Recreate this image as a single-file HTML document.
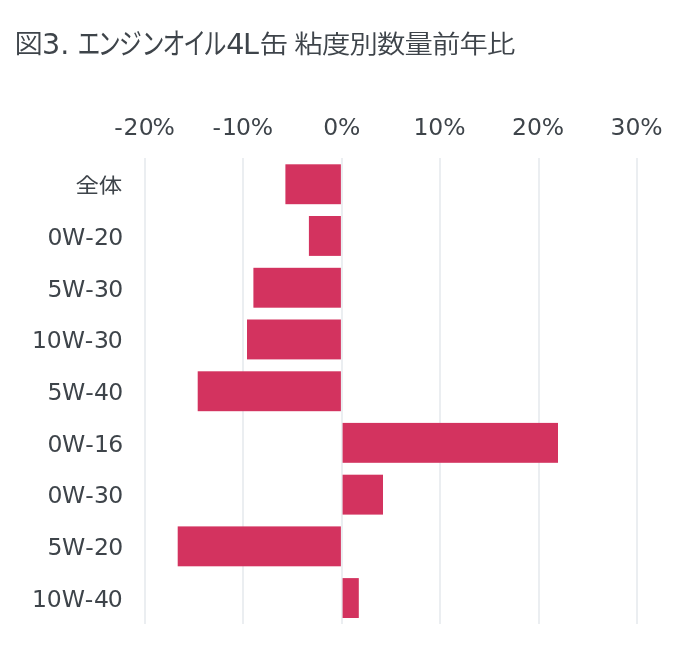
<!DOCTYPE html>
<html lang="ja">
<head>
<meta charset="utf-8">
<title>図3. エンジンオイル4L缶 粘度別数量前年比</title>
<style>
html,body{margin:0;padding:0;background:#fff;}
body{width:700px;height:662px;overflow:hidden;}
svg{display:block;will-change:transform;}
text{font-family:"DejaVu Sans","Liberation Sans","Noto Sans CJK JP",sans-serif;fill:#3e444a;}
.title{font-size:27.3px;}
.lab{font-size:23.5px;}
.cjk{font-weight:350;}
.w4{font-weight:400;}
.lt{font-size:28.6px;}
.kj{font-size:28.4px;letter-spacing:-0.85px;word-spacing:-1.15px;}
.grid{fill:#ebeef1;}
.bar{fill:#d3335f;}
</style>
</head>
<body>
<svg width="700" height="662" viewBox="0 0 700 662">
<rect width="700" height="662" fill="#ffffff"/>
<g class="title">
<text class="cjk kj" transform="translate(14.5,53.4) scale(1,0.92)" x="0" y="0">図</text><text class="lt" x="42.0" y="54.3">3. </text><text class="cjk w4" transform="translate(77.6,54.3) scale(0.84,1.08)" x="0 24.1 49.4 76.1 101 125.9 149.9" y="0">エンジンオイル</text><text class="lt" x="226.2" y="54.3" dx="0 -1.4">4L</text><text class="cjk kj" transform="translate(259.8,53.3) scale(1,0.895)" x="0" y="0">缶 粘度別数量前年比</text>
</g>
<g class="grid">
<rect x="144" y="158" width="2" height="466"/>
<rect x="242" y="158" width="2" height="466"/>
<rect x="341" y="158" width="2" height="466"/>
<rect x="439" y="158" width="2" height="466"/>
<rect x="538" y="158" width="2" height="466"/>
<rect x="636" y="158" width="2" height="466"/>
</g>
<g class="lab" text-anchor="middle">
<text x="144.5" y="134.5" dx="0 1 0.3 -1.3">-20%</text>
<text x="242.8" y="134.5" dx="0 1 -0.8 -0.2">-10%</text>
<text x="341.8" y="134.5">0%</text>
<text x="439.5" y="134.5">10%</text>
<text x="538.1" y="134.5">20%</text>
<text x="636.6" y="134.5">30%</text>
</g>
<g class="bar">
<rect x="285.4" y="164.3" width="55.5" height="39.9"/>
<rect x="308.9" y="216.0" width="32.0" height="39.9"/>
<rect x="253.4" y="267.8" width="87.5" height="39.9"/>
<rect x="247.0" y="319.5" width="93.9" height="39.9"/>
<rect x="197.7" y="371.3" width="143.2" height="39.9"/>
<rect x="342.6" y="422.9" width="215.4" height="39.9"/>
<rect x="342.6" y="474.7" width="40.4" height="39.9"/>
<rect x="177.7" y="526.4" width="163.2" height="39.9"/>
<rect x="342.6" y="578.1" width="16.2" height="39.9"/>
</g>
<g class="lab" text-anchor="end">
<text class="cjk w4" transform="translate(122.0,192.5) scale(1,0.885)" x="0" y="0" dx="0.2 -0.2">全体</text>
<text x="123.1" y="244.8" dx="0 -0.3 0.9 0.3 -0.9">0W-20</text>
<text x="123.1" y="296.5" dx="0 -0.3 0.9 0.3 -0.9">5W-30</text>
<text x="122.6" y="348.2" dx="0 -0.3 0 0.8 0.6 -1.2">10W-30</text>
<text x="123.1" y="399.9" dx="0 -0.3 0.9 0.3 -0.9">5W-40</text>
<text x="123.1" y="451.6" dx="0 -0.3 0.9 0.3 -0.9">0W-16</text>
<text x="123.1" y="503.3" dx="0 -0.3 0.9 0.3 -0.9">0W-30</text>
<text x="123.1" y="555.0" dx="0 -0.3 0.9 0.3 -0.9">5W-20</text>
<text x="122.6" y="606.7" dx="0 -0.3 0 0.8 0.6 -1.2">10W-40</text>
</g>
</svg>
</body>
</html>
